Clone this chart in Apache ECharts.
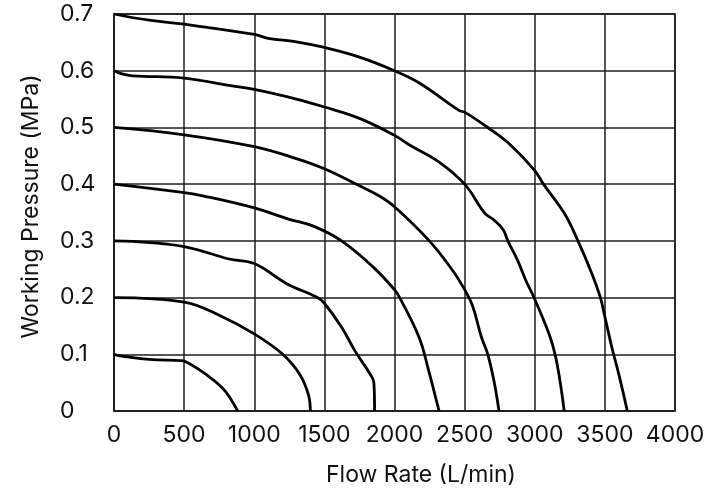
<!DOCTYPE html>
<html>
<head>
<meta charset="utf-8">
<script src="https://cdn.jsdelivr.net/npm/echarts@6/dist/echarts.min.js"></script>
<style>
html,body{margin:0;padding:0;background:#fff;}
#chart{width:718px;height:492px;}
</style>
</head>
<body>
<div id="chart"></div>
<script>
// Flow rate (L/min), working pressure (MPa) pairs per curve
var curve07 = [[0,0.7],[250,0.689],[500,0.682],[1000,0.664],[1100,0.657],[1300,0.651],[1500,0.641],[1750,0.624],[2000,0.6],[2180,0.578],[2460,0.53],[2500,0.527],[2670,0.499],[2827,0.469],[3000,0.424],[3062,0.4],[3210,0.349],[3308,0.3],[3406,0.243],[3468,0.2],[3500,0.166],[3550,0.112],[3600,0.064],[3660,0]];
var curve06 = [[0,0.6],[50,0.595],[135,0.591],[500,0.587],[820,0.574],[1000,0.567],[1300,0.55],[1500,0.536],[1750,0.516],[2000,0.486],[2107,0.469],[2318,0.439],[2500,0.4],[2643,0.349],[2705,0.3375],[2774,0.32],[2808,0.3],[2877,0.266],[2935,0.231],[3000,0.197],[3110,0.13],[3160,0.082],[3210,0]];
var curve05 = [[0,0.5],[500,0.487],[1000,0.466],[1300,0.445],[1500,0.427],[1750,0.397],[1892,0.379],[2000,0.36],[2248,0.3],[2411,0.249],[2500,0.214],[2557,0.185],[2620,0.13],[2665,0.1],[2710,0.052],[2745,0]];
var curve04 = [[0,0.4],[500,0.385],[640,0.379],[1000,0.358],[1250,0.338],[1426,0.3255],[1622,0.3],[1843,0.255],[2000,0.214],[2037,0.2],[2175,0.13],[2245,0.07],[2295,0.022],[2318,0]];
var curve03 = [[0,0.3],[135,0.299],[500,0.29],[820,0.268],[1000,0.26],[1228,0.225],[1450,0.2],[1500,0.19],[1622,0.148],[1718,0.106],[1829,0.064],[1853,0.05],[1858,0]];
var curve02 = [[0,0.2],[500,0.192],[750,0.169],[1000,0.136],[1203,0.1],[1326,0.064],[1387,0.028],[1400,0]];
var curve01 = [[0,0.1],[45,0.097],[250,0.091],[475,0.089],[500,0.088],[670,0.062],[775,0.04],[830,0.022],[882,0]];
var curves = [curve07, curve06, curve05, curve04, curve03, curve02, curve01];

var xName = 'Flow Rate (L/min)';
var yName = 'Working Pressure (MPa)';

var FONT = 'Inter';
var chart = echarts.init(document.getElementById('chart'), null, {renderer:'canvas'});
var lineC = '#1e1e1e';
chart.setOption({
  animation: false,
  backgroundColor: '#fff',
  grid: {left:114, right:43, top:14, bottom:80, show:true, borderColor:lineC, borderWidth:1.5},
  xAxis: {
    type:'value', min:0, max:4000, interval:500,
    name: xName, nameLocation:'middle', nameGap:53,
    nameTextStyle:{fontFamily:FONT, fontSize:23, color:'#111', padding:[0,0,0,53]},
    axisLine:{show:true, lineStyle:{color:lineC, width:1.5}},
    axisTick:{show:false},
    axisLabel:{fontFamily:FONT, fontSize:23, color:'#111', margin:13,
      formatter:function(v){ return String(v); }},
    splitLine:{show:true, lineStyle:{color:lineC, width:1.5}}
  },
  yAxis: {
    type:'value', min:0, max:0.7, interval:0.1,
    name: yName, nameLocation:'middle', nameGap:71,
    nameTextStyle:{fontFamily:FONT, fontSize:23, color:'#111', padding:[0,0,0,12]},
    axisLine:{show:true, lineStyle:{color:lineC, width:1.5}},
    axisTick:{show:false},
    axisLabel:{fontFamily:FONT, fontSize:23, color:'#111', margin:54, align:'left',
      formatter:function(v){ return v===0 ? '0' : v.toFixed(1); }},
    splitLine:{show:true, lineStyle:{color:lineC, width:1.5}}
  },
  series: curves.map(function(c){
    return {type:'line', data:c, smooth:0.4, showSymbol:false, symbol:'none',
      lineStyle:{color:'#000', width:2.8}, clip:false};
  })
});
</script>
</body>
</html>
